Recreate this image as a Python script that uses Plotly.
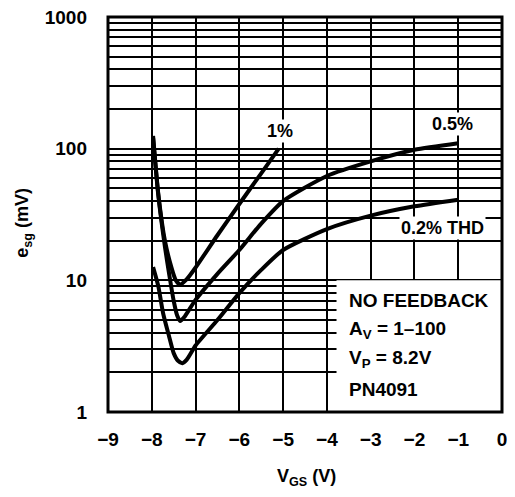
import plotly.graph_objects as go

# ---- data ----
x_1pct = [-7.97, -7.85, -7.7, -7.55, -7.45, -7.35, -7.2, -7.0, -6.5, -6.0, -5.5, -5.1]
y_1pct = [125, 45, 20, 12.5, 10.0, 9.3, 10.2, 12.5, 22, 38, 65, 100]

x_05pct = [-7.97, -7.85, -7.7, -7.6, -7.5, -7.42, -7.35, -7.25, -7.0, -6.5, -6.0, -5.5, -5.0, -4.0, -3.0, -2.0, -1.0]
y_05pct = [120, 44, 18, 11, 7.0, 5.4, 4.9, 5.3, 7.1, 11.2, 17, 27, 40, 62, 80, 98, 110]

x_02pct = [-7.97, -7.85, -7.74, -7.6, -7.5, -7.4, -7.3, -7.2, -7.0, -6.5, -6.0, -5.5, -5.0, -4.0, -3.0, -2.0, -1.0]
y_02pct = [12.6, 9.0, 5.6, 3.7, 2.8, 2.45, 2.35, 2.5, 3.2, 5.0, 8.0, 12, 17, 24.5, 31, 36.5, 41]

curve_labels = ["1%", "0.5%", "0.2% THD"]
x_ticks = [-9, -8, -7, -6, -5, -4, -3, -2, -1, 0]
y_tickvals = [m * 10 ** d for d in range(3) for m in range(1, 10)] + [1000]
y_ticktext = [str(v) if v in (1, 10, 100, 1000) else "" for v in y_tickvals]
box_lines = ["NO FEEDBACK", "A<sub>V</sub> = 1–100", "V<sub>P</sub> = 8.2V", "PN4091"]

FONT = "Liberation Sans, Arial, sans-serif"

fig = go.Figure()
for xs, ys in [(x_1pct, y_1pct), (x_05pct, y_05pct), (x_02pct, y_02pct)]:
    fig.add_trace(go.Scatter(x=xs, y=ys, mode="lines",
                             line=dict(color="black", width=4, shape="spline", smoothing=0.6),
                             showlegend=False, hoverinfo="skip"))

# blank box for the condition text, then the frame on top
fig.add_shape(type="rect", xref="x", yref="paper", x0=-3.78, x1=0, y0=0, y1=1/3,
              fillcolor="white", line=dict(width=0), layer="above")
fig.add_shape(type="rect", xref="paper", yref="paper", x0=0, x1=1, y0=0, y1=1,
              fillcolor="rgba(0,0,0,0)", line=dict(color="black", width=3), layer="above")

# curve labels (white background, breaking the grid like the reference)
lab_font = dict(family=FONT, size=18, color="black", weight="bold")
fig.add_annotation(x=-5.07, y=2.134, text=curve_labels[0], showarrow=False, font=lab_font,
                   bgcolor="white", borderpad=1)
fig.add_annotation(x=-1.12, y=2.187, text=curve_labels[1], showarrow=False, font=lab_font,
                   bgcolor="white", borderpad=1)
fig.add_annotation(x=-1.35, y=1.397, text=curve_labels[2], showarrow=False, font=lab_font,
                   bgcolor="white", borderpad=1)

box_y = [0.2835, 0.2076, 0.134, 0.0557]
for t, yy in zip(box_lines, box_y):
    fig.add_annotation(x=-3.54, xref="x", y=yy, yref="paper", text=t, showarrow=False,
                       xanchor="left", yanchor="middle",
                       font=dict(family=FONT, size=19, color="black", weight="bold"))

# axis titles
fig.add_annotation(x=0.505, y=-0.167, xref="paper", yref="paper", text="V<sub>GS</sub> (V)",
                   xanchor="center", yanchor="middle",
                   showarrow=False, font=dict(family=FONT, size=18, color="black", weight="bold"))
fig.add_annotation(x=-0.215, y=0.48, xref="paper", yref="paper", text="e<sub>sg</sub> (mV)",
                   xanchor="center", yanchor="middle",
                   textangle=-90, showarrow=False,
                   font=dict(family=FONT, size=18, color="black", weight="bold"))

fig.update_xaxes(range=[-9, 0], tickvals=x_ticks, ticktext=[("−" + str(-v)) if v < 0 else str(v) for v in x_ticks],
                 showgrid=True, gridcolor="black", gridwidth=1.6,
                 showline=False, zeroline=False,
                 ticks="", ticklabelstandoff=14, ticklabeloverflow="allow",
                 tickfont=dict(family=FONT, size=19, color="black", weight="bold"))
fig.update_yaxes(type="log", range=[0, 3], tickvals=y_tickvals, ticktext=y_ticktext,
                 showgrid=True, gridcolor="black", gridwidth=1.6,
                 showline=False, zeroline=False,
                 ticks="", ticklabelstandoff=20, ticklabeloverflow="allow",
                 tickfont=dict(family=FONT, size=19, color="black", weight="bold"))

# the page body adds an 8px offset, so the figure is 8px smaller and its margins shifted
fig.update_layout(width=507, height=489, margin=dict(l=100, r=13, t=9, b=85, autoexpand=False),
                  paper_bgcolor="white", plot_bgcolor="white", showlegend=False)

fig.write_html("out.html")
